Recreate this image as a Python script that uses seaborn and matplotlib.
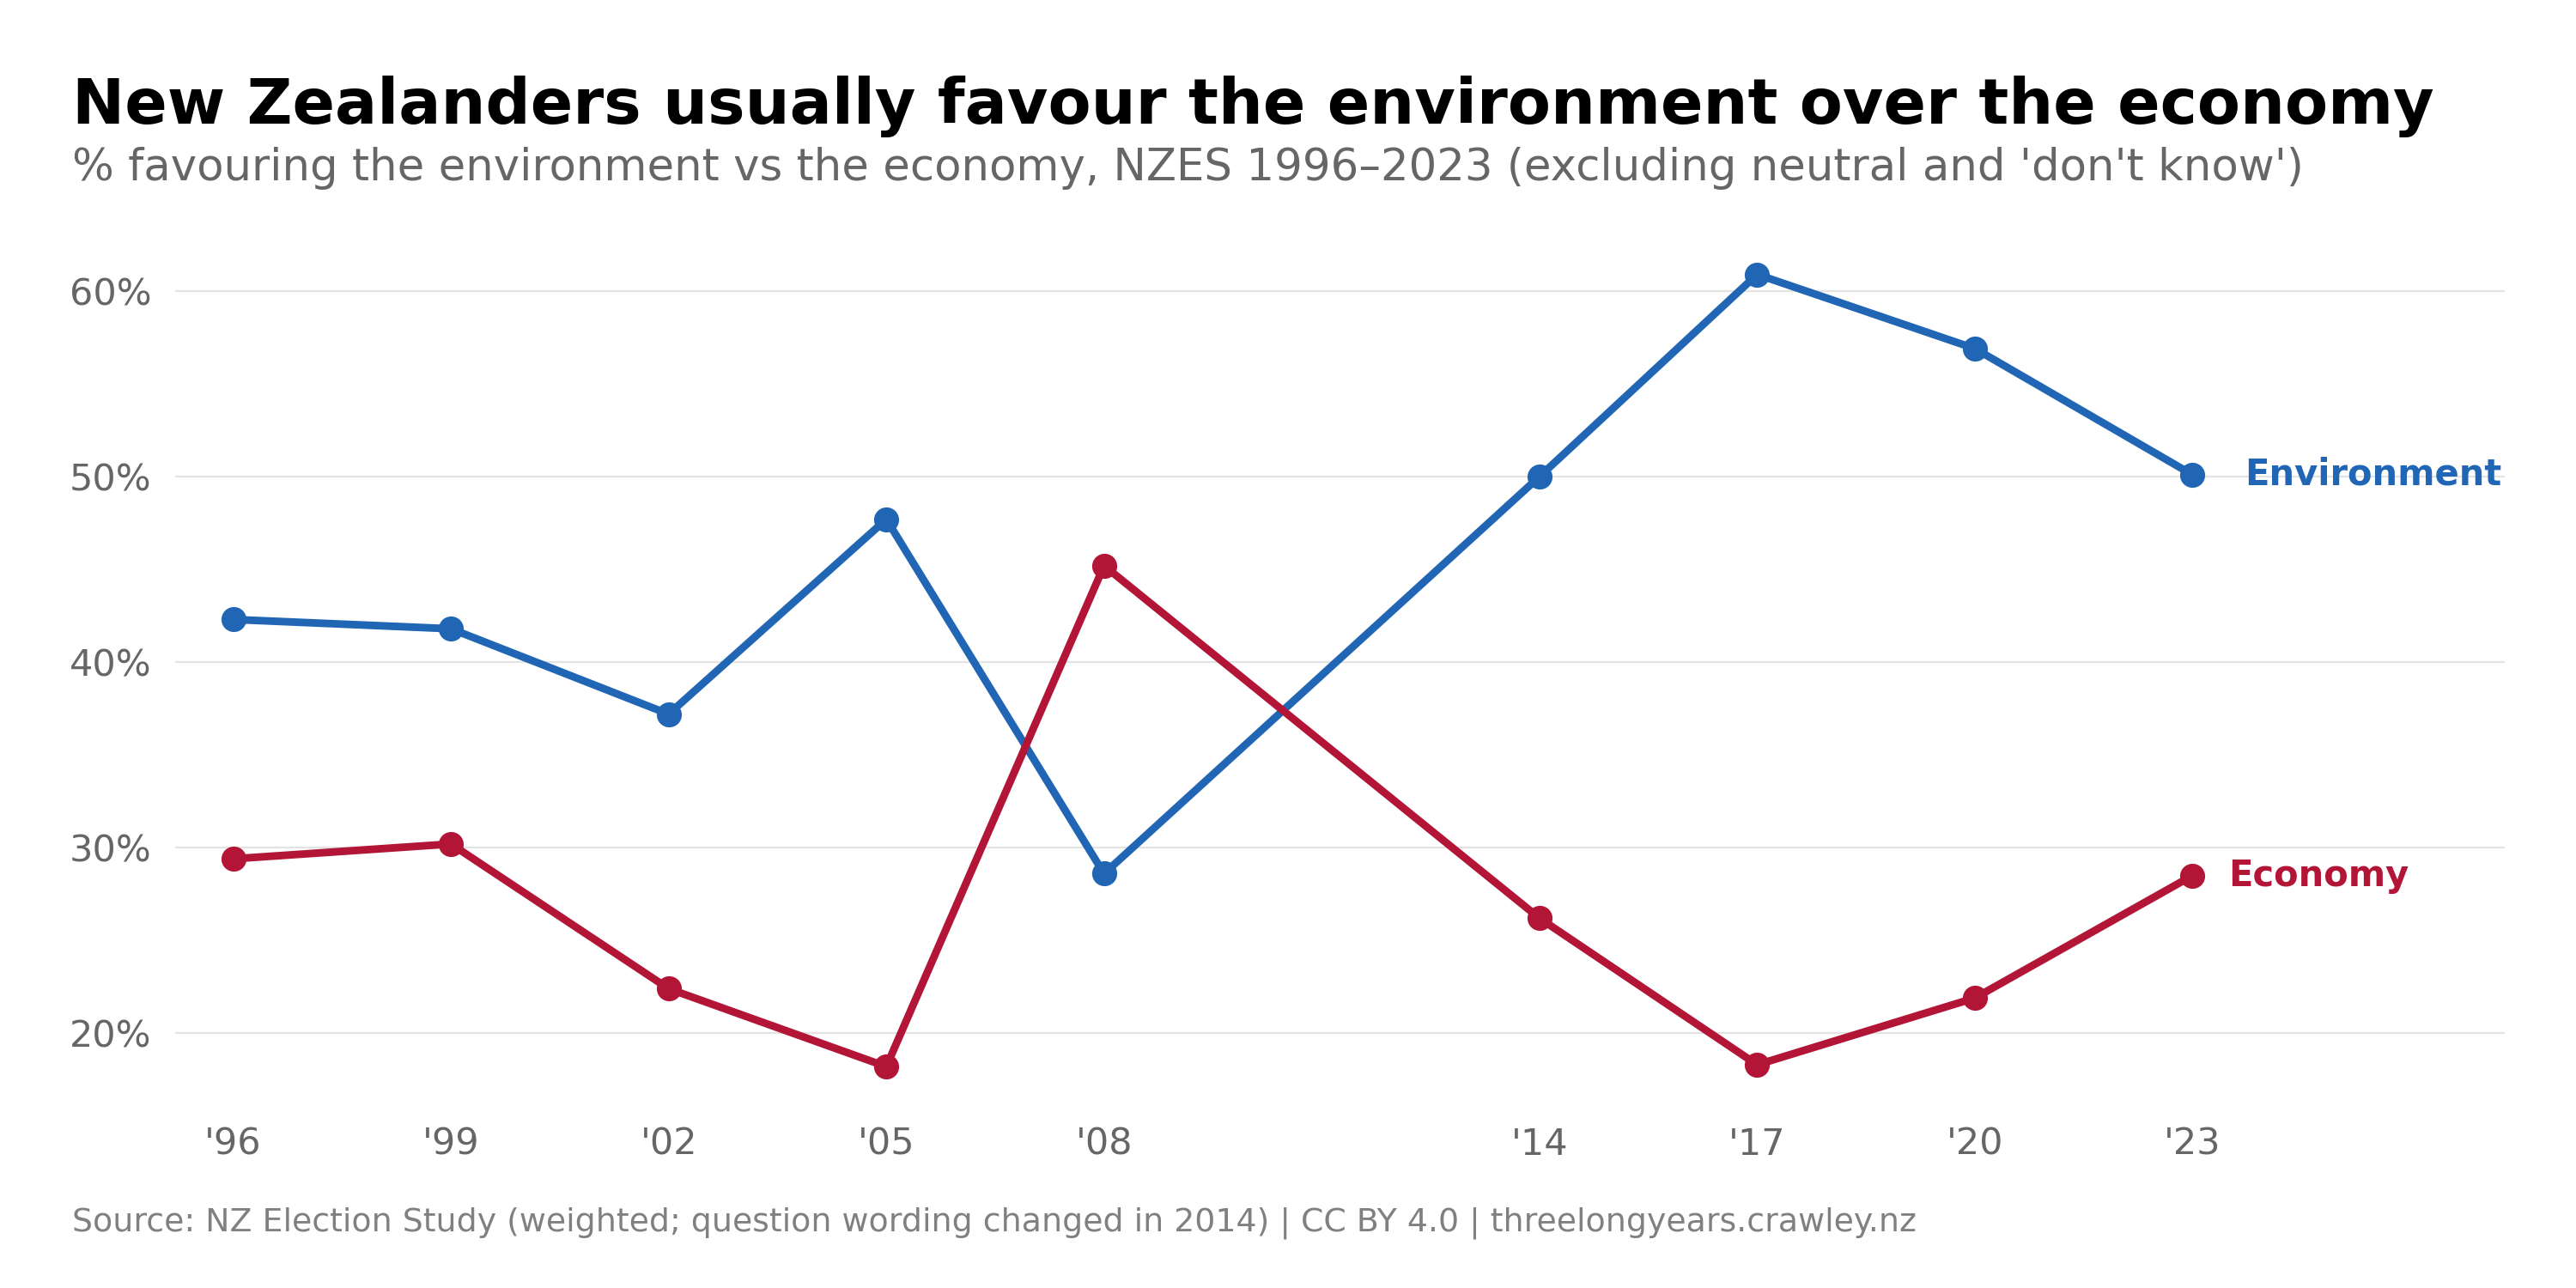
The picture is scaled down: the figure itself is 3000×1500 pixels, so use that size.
import matplotlib
matplotlib.use("Agg")
import matplotlib.pyplot as plt
import seaborn as sns
import pandas as pd
from matplotlib.ticker import FuncFormatter

years = [1996, 1999, 2002, 2005, 2008, 2014, 2017, 2020, 2023]
tick_labels = ["'96", "'99", "'02", "'05", "'08", "'14", "'17", "'20", "'23"]
environment = [42.3, 41.8, 37.2, 47.7, 28.6, 50.0, 60.9, 56.9, 50.1]
economy = [29.4, 30.2, 22.4, 18.2, 45.2, 26.2, 18.3, 21.9, 28.5]
series_names = ["Environment", "Economy"]
y_ticks = [20, 30, 40, 50, 60]

title = "New Zealanders usually favour the environment over the economy"
subtitle = "% favouring the environment vs the economy, NZES 1996\u20132023 (excluding neutral and 'don't know')"
source = "Source: NZ Election Study (weighted; question wording changed in 2014) | CC BY 4.0 | threelongyears.crawley.nz"

colors = {"Environment": "#2166b5", "Economy": "#b31536"}

df = pd.DataFrame({
    "year": years * 2,
    "value": environment + economy,
    "series": [series_names[0]] * len(years) + [series_names[1]] * len(years),
})

sns.set_theme(style="white")
plt.rcParams["font.family"] = ["DejaVu Sans"]

fig = plt.figure(figsize=(15, 7.5), dpi=200)
ax = fig.add_axes([0.068, 0.1402, 0.9043, 0.677])

sns.lineplot(data=df, x="year", y="value", hue="series", palette=colors,
             marker="o", markersize=10.5, markeredgewidth=0, linewidth=3.2,
             legend=False, ax=ax, zorder=3)

ax.set_xlim(1995.2, 2027.3)
ax.set_ylim(16, 63)
ax.set_xticks(years)
ax.set_xticklabels(tick_labels)
ax.set_yticks(y_ticks)
ax.yaxis.set_major_formatter(FuncFormatter(lambda v, p: f"{v:.0f}%"))
ax.set_xlabel("")
ax.set_ylabel("")
ax.grid(axis="y", color="#e3e3e3", linewidth=0.8, zorder=0)
ax.grid(axis="x", visible=False)
for s in ax.spines.values():
    s.set_visible(False)
ax.tick_params(axis="x", length=0, pad=8, labelsize=15.5, labelcolor="#666666")
ax.tick_params(axis="y", length=0, pad=10, labelsize=15.5, labelcolor="#666666")

ax.annotate("Environment", xy=(years[-1], environment[-1]), xytext=(22, 0),
            textcoords="offset points", ha="left", va="center",
            fontsize=15, fontweight="bold", color=colors["Environment"])
ax.annotate("Economy", xy=(years[-1], economy[-1]), xytext=(15, 0),
            textcoords="offset points", ha="left", va="center",
            fontsize=15, fontweight="bold", color=colors["Economy"])

fig.text(0.028, 0.904, title, fontsize=26.3, fontweight="bold", color="#000000",
         ha="left", va="baseline")
fig.text(0.028, 0.86, subtitle, fontsize=18.5, color="#666666",
         ha="left", va="baseline")
fig.text(0.028, 0.0443, source, fontsize=13.65, color="#808080",
         ha="left", va="baseline")

fig.savefig("out.png", dpi=200)
